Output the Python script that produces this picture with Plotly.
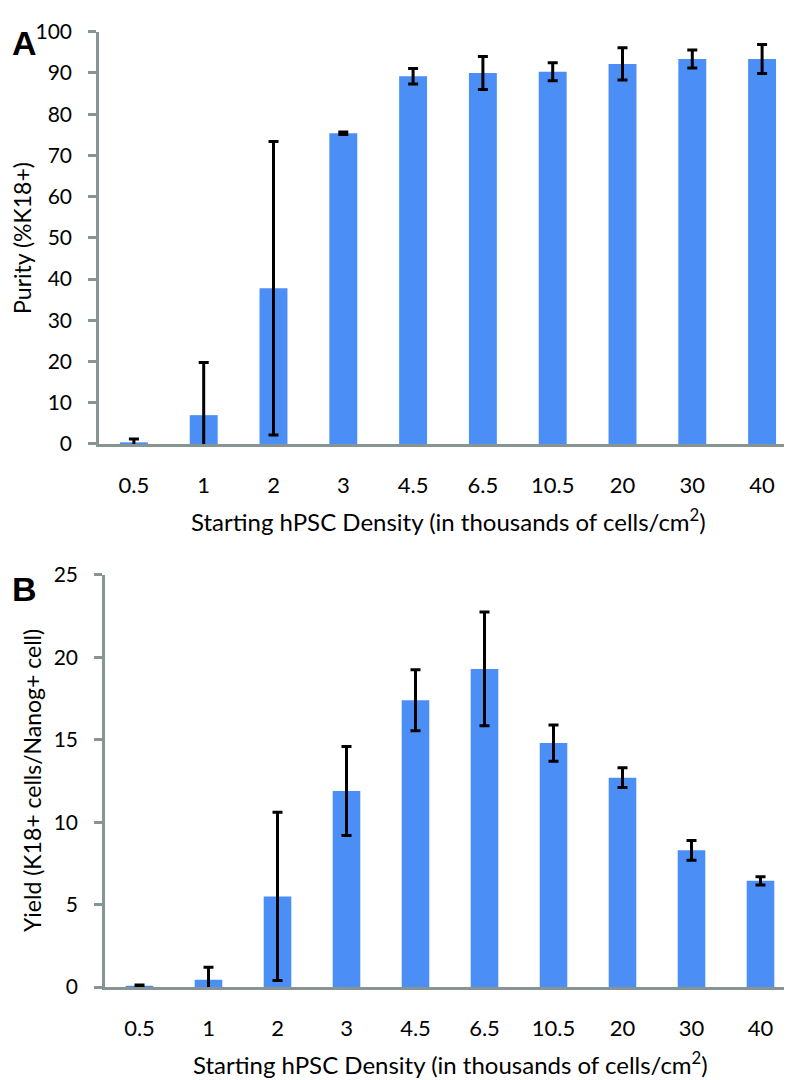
import plotly.graph_objects as go

W, H = 792, 1080

densities = ['0.5', '1', '2', '3', '4.5', '6.5', '10.5', '20', '30', '40']

purity = [0.4, 7.0, 37.8, 75.4, 89.2, 90.0, 90.3, 92.2, 93.4, 93.4]
purity_err = [0.8, 12.8, 35.6, 0.3, 1.9, 4.0, 2.2, 3.9, 2.2, 3.5]

yield_ = [0.08, 0.45, 5.5, 11.9, 17.4, 19.3, 14.8, 12.7, 8.3, 6.45]
yield_err = [0.05, 0.75, 5.1, 2.7, 1.85, 3.45, 1.1, 0.6, 0.6, 0.25]

bar_col = '#4B8EF5'
axis_col = '#869494'
font = 'Lato, "Open Sans", sans-serif'


def px_x(p):
    return p / W


def px_y(p):
    return 1 - p / H


fig = go.Figure()
fig.add_bar(x=densities, y=purity, marker_color=bar_col, marker_line_width=0,
            error_y=dict(type='data', array=purity_err, color='black', thickness=3, width=5),
            xaxis='x', yaxis='y')
fig.add_bar(x=densities, y=yield_, marker_color=bar_col, marker_line_width=0,
            error_y=dict(type='data', array=yield_err, color='black', thickness=3, width=5),
            xaxis='x2', yaxis='y2')

xax = dict(showline=True, linecolor=axis_col, linewidth=2.5, ticks='', showgrid=False,
           tickfont=dict(size=22, color='black', family=font), ticklabelstandoff=20,
           fixedrange=True)
yax = dict(showline=True, linecolor=axis_col, linewidth=2.5, ticks='outside', ticklen=8,
           tickwidth=2.5, tickcolor=axis_col, showgrid=False, zeroline=False,
           tickfont=dict(size=21, color='black', family=font), ticklabelstandoff=12)

fig.update_layout(
    width=W, height=H, margin=dict(l=0, r=0, t=0, b=0),
    paper_bgcolor='white', plot_bgcolor='white', showlegend=False, bargap=0.6,
    xaxis=dict(xax, domain=[px_x(91), px_x(789)], anchor='y'),
    yaxis=dict(yax, domain=[px_y(432), px_y(10)], anchor='x', range=[0, 100], dtick=10),
    xaxis2=dict(xax, domain=[px_x(97), px_x(787)], anchor='y2'),
    yaxis2=dict(yax, domain=[px_y(988), px_y(566)], anchor='x2', range=[0, 25], dtick=5),
)

xtitle = 'Starting hPSC Density (in thousands of cells/cm<sup>2</sup>)'
ann = [
    dict(text=xtitle, x=px_x(440), y=px_y(510), font=dict(size=24)),
    dict(text=xtitle, x=px_x(442), y=px_y(1066), font=dict(size=24)),
    dict(text='Purity (%K18+)', x=px_x(14), y=px_y(221), textangle=-90, font=dict(size=23)),
    dict(text='Yield (K18+ cells/Nanog+ cell)', x=px_x(24), y=px_y(777), textangle=-90,
         font=dict(size=23)),
    dict(text='<b>A</b>', x=px_x(16), y=px_y(21), font=dict(size=34, family='Arial, Liberation Sans')),
    dict(text='<b>B</b>', x=px_x(16), y=px_y(580), font=dict(size=34, family='Arial, Liberation Sans')),
]
for a in ann:
    a.setdefault('font', {})
    a['font'].setdefault('family', font)
    a['font']['color'] = 'black'
    fig.add_annotation(xref='paper', yref='paper', showarrow=False,
                       xanchor='center', yanchor='middle', **a)

fig.write_html('out.html')
